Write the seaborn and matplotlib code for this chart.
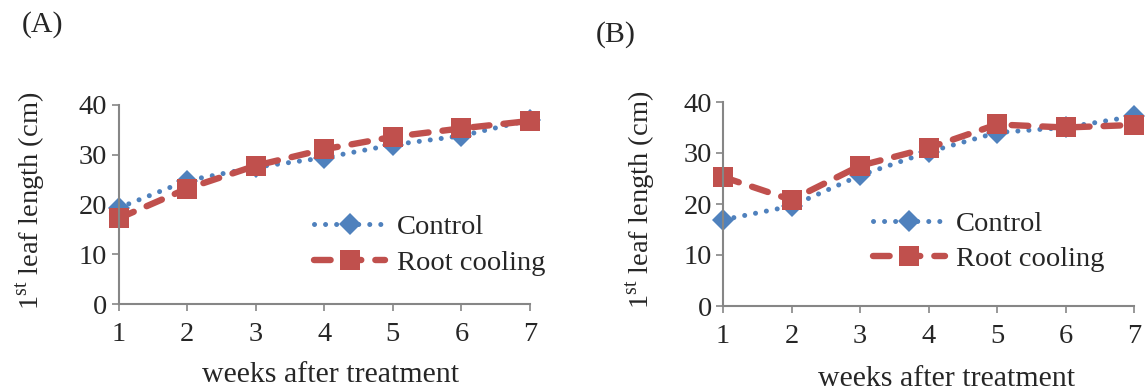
import matplotlib
matplotlib.use("Agg")
import matplotlib.pyplot as plt
import seaborn as sns
import pandas as pd

# Weekly 1st-leaf length (cm) under two treatments
weeks = [1, 2, 3, 4, 5, 6, 7]
control_a = [19.3, 24.8, 27.5, 29.4, 32.0, 33.8, 37.0]
cooling_a = [17.2, 23.2, 27.8, 31.1, 33.6, 35.3, 36.8]
control_b = [16.9, 19.6, 25.6, 30.2, 34.0, 35.0, 37.2]
cooling_b = [25.3, 20.8, 27.5, 31.0, 35.6, 35.0, 35.5]
series_names = ["Control", "Root cooling"]
panel_tags = ["(A)", "(B)"]
y_ticks = [0, 10, 20, 30, 40]

sns.set_style("white")
plt.rcParams["font.family"] = ["Liberation Serif", "DejaVu Serif"]
plt.rcParams["mathtext.fontset"] = "custom"
plt.rcParams["mathtext.rm"] = "Liberation Serif"

BLUE = "#4F81BD"
RED = "#C0504D"
GREY = "#868686"
FS = 21.5
LEG_FS = 20.5
YLAB_FS = 20.5
TICK_FS = 20.5

fig = plt.figure(figsize=(11.46, 3.9), dpi=100)
W, H = 1146, 390

def add_px_axes(left, top, right, bottom):
    return fig.add_axes([left / W, 1 - bottom / H, (right - left) / W, (bottom - top) / H])

ax_a = add_px_axes(118.5, 105, 530, 304)
ax_b = add_px_axes(723, 102, 1134, 306)

panels = [
    (ax_a, control_a, cooling_a, (0.516, -0.29), (-0.215, 0.52), (0.475, 0.298)),
    (ax_b, control_b, cooling_b, (0.545, -0.294), (-0.202, 0.52), (0.366, 0.316)),
]

for ax, ctrl, cool, xl_pos, yl_pos, leg_pos in panels:
    df = pd.DataFrame({"week": weeks, "Control": ctrl, "Root cooling": cool})
    sns.lineplot(data=df, x="week", y="Control", ax=ax, color=BLUE,
                 marker="D", markersize=11, markeredgewidth=0,
                 linewidth=3.6, linestyle=(0, (0.01, 2.2)),
                 dash_capstyle="round", label=series_names[0],
                 clip_on=False, errorbar=None, sort=False)
    sns.lineplot(data=df, x="week", y="Root cooling", ax=ax, color=RED,
                 marker="s", markersize=15, markeredgewidth=0,
                 linewidth=4.6, linestyle=(0, (2.6, 2.2)),
                 dash_capstyle="round", label=series_names[1],
                 clip_on=False, errorbar=None, sort=False)

    ax.set_xlim(1, 7)
    ax.set_ylim(0, 40)
    ax.set_xticks(weeks)
    ax.set_yticks(y_ticks)
    ax.tick_params(axis="both", labelsize=TICK_FS, length=5, width=1.2,
                   color=GREY, direction="out", left=True, bottom=True)
    ax.tick_params(axis="y", pad=3)
    ax.tick_params(axis="x", pad=8)
    for side in ["top", "right"]:
        ax.spines[side].set_visible(False)
    for side in ["left", "bottom"]:
        ax.spines[side].set_color(GREY)
        ax.spines[side].set_linewidth(1.5)

    ax.set_xlabel("weeks after treatment", fontsize=FS)
    ax.xaxis.set_label_coords(*xl_pos)
    ax.set_ylabel("1$^{\\rm st}$ leaf length (cm)", fontsize=YLAB_FS, va="center")
    ax.yaxis.set_label_coords(*yl_pos)

    handles, labels = ax.get_legend_handles_labels()
    ax.legend(handles, labels, loc="center left", bbox_to_anchor=leg_pos,
              frameon=False, fontsize=LEG_FS, handlelength=2.5,
              handletextpad=0.4, labelspacing=0.35, borderpad=0,
              borderaxespad=0)

fig.text(22 / W, 1 - 25 / H, panel_tags[0], fontsize=FS, ha="left", va="center")
fig.text(596 / W, 1 - 35 / H, panel_tags[1], fontsize=FS, ha="left", va="center")

fig.savefig("out.png", dpi=100)
